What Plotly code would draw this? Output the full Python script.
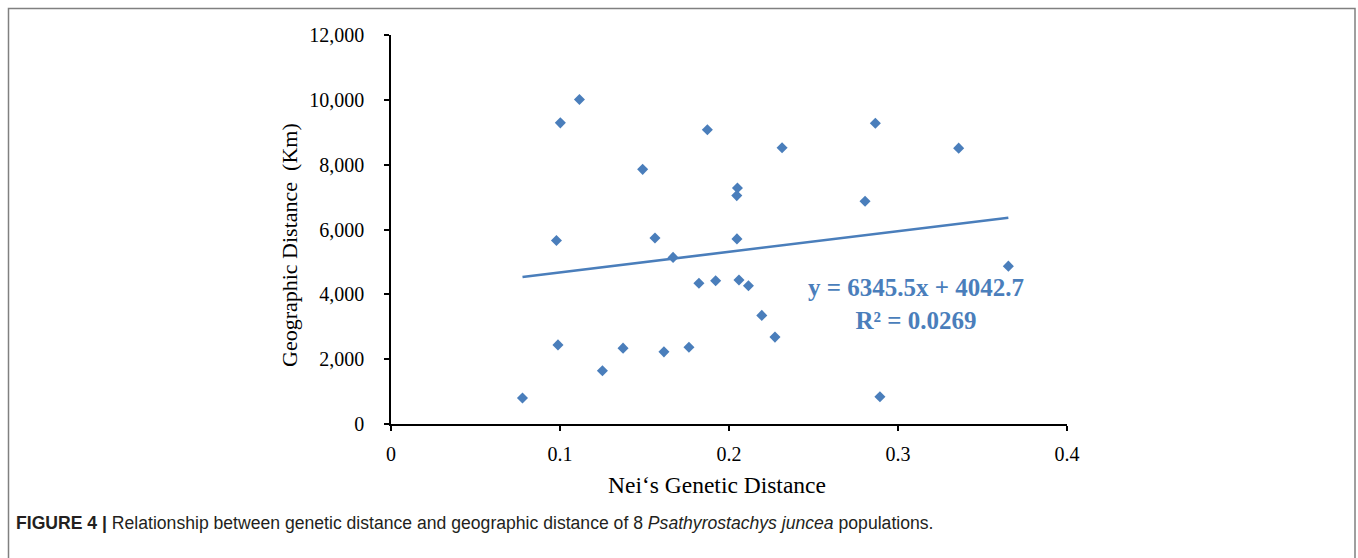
import plotly.graph_objects as go

# Nei's genetic distance (x) vs geographic distance in km (y), 28 population pairs
genetic_distance = [0.0778, 0.0988, 0.1251, 0.1373, 0.1615, 0.1763, 0.1822, 0.1921,
                    0.1115, 0.1002, 0.1872, 0.1489, 0.0979, 0.1562, 0.1669,
                    0.2866, 0.2314, 0.3359, 0.2050, 0.2046, 0.2805, 0.2047,
                    0.3653, 0.2059, 0.2115, 0.2194, 0.2272, 0.2893]
geographic_distance = [800, 2440, 1640, 2340, 2225, 2370, 4340, 4420,
                       10010, 9290, 9080, 7855, 5660, 5740, 5140,
                       9280, 8520, 8510, 7280, 7045, 6870, 5710,
                       4870, 4440, 4265, 3350, 2680, 840]

# Linear trendline as stated on the chart
slope = 6345.5
intercept = 4042.7
r_squared = 0.0269

x_ticks = [0, 0.1, 0.2, 0.3, 0.4]
x_tick_labels = ["0", "0.1", "0.2", "0.3", "0.4"]
y_ticks = [0, 2000, 4000, 6000, 8000, 10000, 12000]
y_tick_labels = ["0", "2,000", "4,000", "6,000", "8,000", "10,000", "12,000"]

BLUE = "#4A7EBB"
SERIF = "Liberation Serif, Times New Roman, serif"
SANS = "Liberation Sans, Arial, Helvetica, sans-serif"

trend_x = [min(genetic_distance), max(genetic_distance)]
trend_y = [slope * v + intercept for v in trend_x]

fig = go.Figure()
fig.add_trace(go.Scatter(
    x=trend_x, y=trend_y, mode="lines",
    line=dict(color=BLUE, width=2.6), hoverinfo="skip", showlegend=False))
fig.add_trace(go.Scatter(
    x=genetic_distance, y=geographic_distance, mode="markers",
    marker=dict(symbol="diamond", size=8.5, color=BLUE, line=dict(width=0)),
    showlegend=False))

L, R, T, B = 391, 291, 35, 134
W, H = 1358, 558
pw, ph = W - L - R, H - T - B

def px_x(p):
    return (p - L) / pw

def px_y(p):
    return (H - B - p) / ph

fig.update_layout(
    width=W, height=H,
    margin=dict(l=L, r=R, t=T, b=B),
    paper_bgcolor="white", plot_bgcolor="white",
    font=dict(family=SERIF, color="black"),
    xaxis=dict(range=[0, 0.4], tickvals=x_ticks, ticktext=x_tick_labels,
               showgrid=False, zeroline=False, showline=True, linecolor="black",
               linewidth=1.6, ticks="outside", ticklen=5, tickwidth=1.6,
               tickcolor="black", tickfont=dict(family=SERIF, size=20, color="black"),
               ticklabelstandoff=6),
    yaxis=dict(range=[0, 12000], tickvals=y_ticks, ticktext=y_tick_labels,
               showgrid=False, zeroline=False, showline=True, linecolor="black",
               linewidth=1.6, ticks="outside", ticklen=5, tickwidth=1.6,
               tickcolor="black", tickfont=dict(family=SERIF, size=20, color="black"),
               ticklabelstandoff=16),
    shapes=[dict(type="rect", xref="paper", yref="paper",
                 x0=px_x(8.5), x1=px_x(1355), y0=px_y(570), y1=px_y(8.5),
                 line=dict(color="#808080", width=1.5), fillcolor="rgba(0,0,0,0)",
                 layer="below")],
    annotations=[
        dict(xref="paper", yref="paper", x=px_x(717), y=px_y(485),
             text="Nei‘s Genetic Distance", showarrow=False,
             font=dict(family=SERIF, size=23.5, color="black"),
             xanchor="center", yanchor="middle"),
        dict(xref="paper", yref="paper", x=px_x(289), y=px_y(245),
             text="Geographic Distance\u00a0 (Km)", showarrow=False, textangle=-90,
             font=dict(family=SERIF, size=22, color="black"),
             xanchor="center", yanchor="middle"),
        dict(xref="paper", yref="paper", x=px_x(916), y=px_y(304),
             text=f"<b>y = {slope}x + {intercept}<br>R² = {r_squared}</b>",
             showarrow=False, align="center",
             font=dict(family=SERIF, size=25, color=BLUE),
             xanchor="center", yanchor="middle"),
        dict(xref="paper", yref="paper", x=px_x(14), y=px_y(523),
             text="<b>FIGURE 4 |</b> Relationship between genetic distance and geographic "
                  "distance of 8 <i>Psathyrostachys juncea</i> populations.",
             showarrow=False, align="left",
             font=dict(family=SANS, size=17.6, color="#231F20"),
             xanchor="left", yanchor="middle"),
    ],
)

fig.write_html("out.html")
